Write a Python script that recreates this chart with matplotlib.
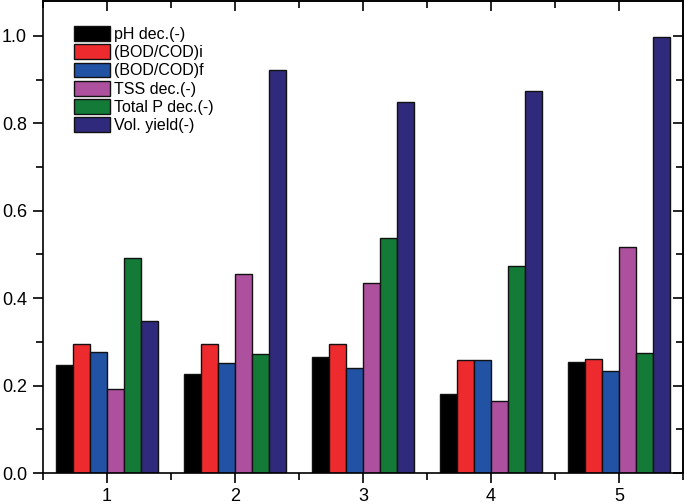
import numpy as np
import matplotlib
matplotlib.use("Agg")
import matplotlib.pyplot as plt
from matplotlib.ticker import MultipleLocator

plt.rcParams['font.family'] = ['Liberation Sans', 'DejaVu Sans']

groups = [1, 2, 3, 4, 5]
series = ['pH dec.(-)', '(BOD/COD)i', '(BOD/COD)f', 'TSS dec.(-)',
          'Total P dec.(-)', 'Vol. yield(-)']
ph_dec = [0.247, 0.227, 0.265, 0.180, 0.255]
bod_cod_i = [0.295, 0.295, 0.295, 0.259, 0.260]
bod_cod_f = [0.277, 0.251, 0.241, 0.259, 0.234]
tss_dec = [0.193, 0.456, 0.434, 0.165, 0.517]
total_p_dec = [0.492, 0.272, 0.537, 0.473, 0.275]
vol_yield = [0.347, 0.923, 0.849, 0.874, 0.998]
colors = ['#000000', '#ED2B2F', '#2152A3', '#AD509D', '#147A37', '#2F2A7C']

values = [ph_dec, bod_cod_i, bod_cod_f, tss_dec, total_p_dec, vol_yield]

fig = plt.figure(figsize=(6.85, 5.04), dpi=100)
ax = fig.add_axes([43/685, 31/504, 640/685, 472/504])

x = np.array(groups, dtype=float)
w = 0.8 / len(series)
for i, (name, vals, c) in enumerate(zip(series, values, colors)):
    ax.bar(x - 0.4 + w*(i+0.5), vals, width=w, color=c, edgecolor='#111111',
           linewidth=1.0, label=name)

ax.set_xlim(0.5, 5.5)
ax.set_ylim(0, 1.08)
ax.xaxis.set_major_locator(MultipleLocator(1))
ax.xaxis.set_minor_locator(MultipleLocator(0.5))
ax.yaxis.set_major_locator(MultipleLocator(0.2))
ax.yaxis.set_minor_locator(MultipleLocator(0.1))
ax.set_yticks([0.0, 0.2, 0.4, 0.6, 0.8, 1.0])
ax.set_yticklabels(['0.0', '0.2', '0.4', '0.6', '0.8', '1.0'])

for s in ax.spines.values():
    s.set_linewidth(1.2)

ax.tick_params(axis='both', which='major', direction='out', length=7,
               width=1.2, labelsize=13, top=False, right=False)
ax.tick_params(axis='y', which='major', pad=4.5)
ax.tick_params(axis='x', which='major', pad=4)
ax.tick_params(axis='both', which='minor', direction='out', length=5,
               width=1.2, top=False, right=False)

# mirrored inward ticks on top and right
axt = ax.secondary_xaxis('top')
axt.xaxis.set_major_locator(MultipleLocator(1))
axt.xaxis.set_minor_locator(MultipleLocator(0.5))
axt.tick_params(which='major', direction='in', length=7, width=1.2, labeltop=False)
axt.tick_params(which='minor', direction='in', length=5, width=1.2)
axr = ax.secondary_yaxis('right')
axr.yaxis.set_major_locator(MultipleLocator(0.2))
axr.yaxis.set_minor_locator(MultipleLocator(0.1))
axr.tick_params(which='major', direction='in', length=7, width=1.2, labelright=False)
axr.tick_params(which='minor', direction='in', length=5, width=1.2)
for a in (axt, axr):
    for s in a.spines.values():
        s.set_linewidth(1.2)

ax.legend(loc='upper left', bbox_to_anchor=(0.048, 0.947), frameon=False,
          fontsize=11.5, handlelength=2.3, handleheight=1.05, labelspacing=0.15,
          handletextpad=0.25, borderpad=0, borderaxespad=0)

fig.savefig('out.png', dpi=100)
